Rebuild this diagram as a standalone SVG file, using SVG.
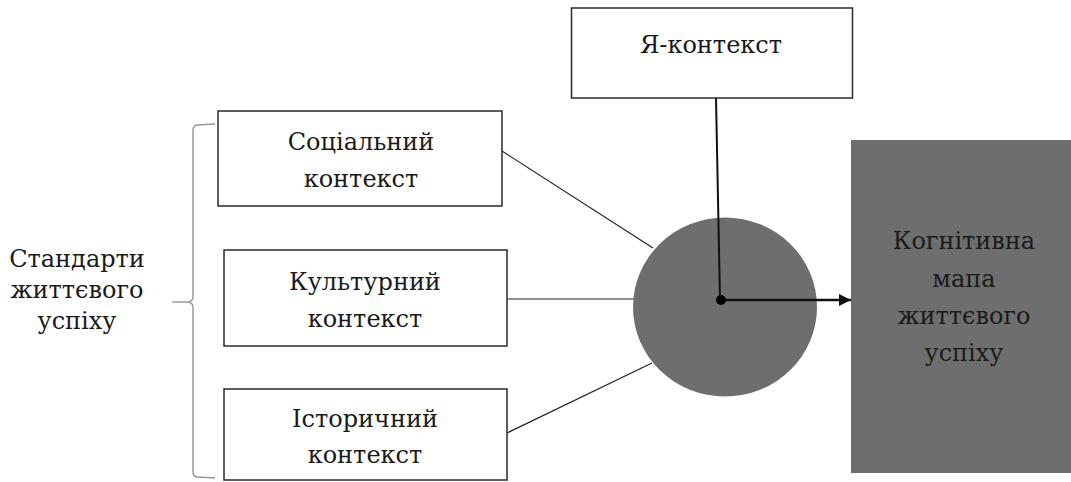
<svg xmlns="http://www.w3.org/2000/svg" width="1071" height="482" viewBox="0 0 1071 482">
<style>
.box{fill:#fff;stroke:#2a2a2a;stroke-width:1.5}
.t{font-family:"DejaVu Serif",serif;font-size:24px;fill:#1a1a1a;text-anchor:middle}
.ln{stroke:#222;stroke-width:1.2;fill:none}
.br{stroke:#9a9a9a;stroke-width:1.5;fill:none}
</style>
<defs>
<marker id="ah" viewBox="0 0 10 10" refX="10" refY="5" markerWidth="5" markerHeight="5" markerUnits="strokeWidth" orient="auto">
<path d="M0,0 L10,5 L0,10 z" fill="#111"/>
</marker>
</defs>
<rect width="1071" height="482" fill="#fff"/>
<g id="connectors">
<line class="ln" x1="502" y1="151" x2="653" y2="248"/>
<line class="ln" x1="507" y1="299" x2="634" y2="299"/>
<line class="ln" x1="507" y1="433" x2="652" y2="363"/>
</g>
<g id="node-center">
<ellipse cx="725" cy="307" rx="92" ry="89.5" fill="#6e6e6e"/>
</g>
<g id="connectors-center">
<line x1="716" y1="98" x2="720" y2="300" stroke="#111" stroke-width="2"/>
<line x1="721" y1="300" x2="851" y2="300" stroke="#111" stroke-width="2.5" marker-end="url(#ah)"/>
<circle cx="721" cy="300" r="5" fill="#000"/>
</g>
<g id="node-ya">
<rect class="box" x="571.5" y="8" width="281" height="90"/>
<text class="t" x="711" y="53">Я-контекст</text>
</g>
<g id="node-social">
<rect class="box" x="218" y="111" width="284" height="95"/>
<text class="t" x="361" y="150">Соціальний</text>
<text class="t" x="361" y="187">контекст</text>
</g>
<g id="node-cultural">
<rect class="box" x="224" y="250" width="283" height="96"/>
<text class="t" x="365" y="290">Культурний</text>
<text class="t" x="365" y="327">контекст</text>
</g>
<g id="node-historical">
<rect class="box" x="224" y="389" width="283" height="91"/>
<text class="t" x="365" y="427">Історичний</text>
<text class="t" x="365" y="463">контекст</text>
</g>
<g id="node-brace">
<path class="br" d="M215,124 L197,125 Q193,126 193,130 L193,297 Q193,301 188,302 L172,302 M188,302 Q193,303 193,307 L193,472 Q193,477 198,477 L215,478"/>
<text class="t" x="77" y="267">Стандарти</text>
<text class="t" x="77" y="298">життєвого</text>
<text class="t" x="77" y="329">успіху</text>
</g>
<g id="node-map">
<rect x="851" y="140" width="220" height="333" fill="#6e6e6e"/>
<text class="t" x="964" y="249">Когнітивна</text>
<text class="t" x="964" y="287">мапа</text>
<text class="t" x="964" y="324">життєвого</text>
<text class="t" x="964" y="361">успіху</text>
</g>
</svg>
